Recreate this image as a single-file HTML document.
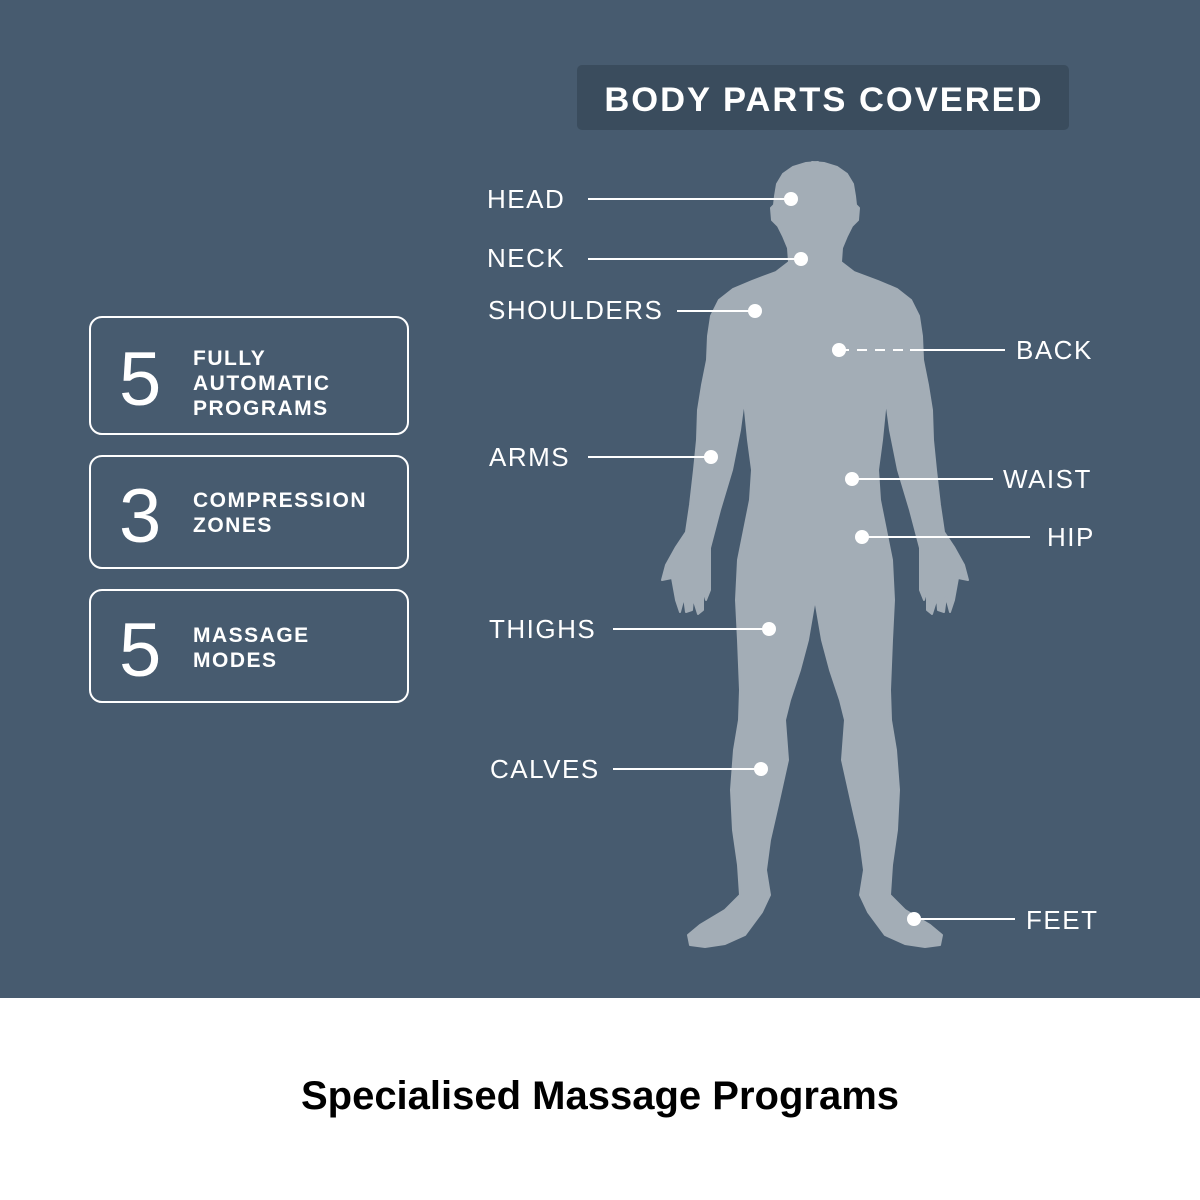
<!DOCTYPE html>
<html><head><meta charset="utf-8"><style>
html,body{margin:0;padding:0;width:1200px;height:1200px;overflow:hidden;background:#fff;}
svg{display:block}
</style></head><body>
<svg width="1200" height="1200" viewBox="0 0 1200 1200" xmlns="http://www.w3.org/2000/svg" font-family="'Liberation Sans', sans-serif">
<rect x="0" y="0" width="1200" height="998" fill="#475b6f"/>
<rect x="0" y="998" width="1200" height="202" fill="#ffffff"/>
<rect x="577" y="65" width="492" height="65" rx="5" fill="#3a4c5d"/>
<text x="824" y="111" text-anchor="middle" fill="#fff" font-size="34.5" font-weight="bold" letter-spacing="2">BODY PARTS COVERED</text>

<g fill="#a3adb6" stroke="#a3adb6" stroke-width="2" stroke-linejoin="round">
<polygon id="half" points="818,162 806,163 793,167 783,174 777,184 775,196 774,205 771,208 772,220 778,226 783,236 788,248 789,262 776,272 752,281 733,289 719,300 711,316 708,336 707,360 702,385 698,410 697,440 694,470 690,505 686,532 676,547 666,565 662,580 672,578 676,600 680,612 684,597 686,612 692,610 693,598 698,614 703,610 703,590 706,600 710,590 710,548 720,510 732,470 740,430 744,400 748,440 752,470 750,500 744,530 738,560 736,600 738,640 740,690 739,720 734,750 731,790 733,830 738,865 740,895 725,910 700,925 688,935 690,945 705,947 725,944 745,935 762,912 770,895 766,870 770,840 778,805 788,760 785,720 790,700 800,670 808,640 814,605 818,598"/>
<use href="#half" transform="translate(1630,0) scale(-1,1)"/>
</g>

<g stroke="#fff" stroke-width="2" fill="none">
<line x1="588" y1="199" x2="791" y2="199"/>
<line x1="588" y1="259" x2="801" y2="259"/>
<line x1="677" y1="311" x2="755" y2="311"/>
<line x1="839" y1="350" x2="910" y2="350" stroke-dasharray="10,8"/>
<line x1="910" y1="350" x2="1005" y2="350"/>
<line x1="588" y1="457" x2="711" y2="457"/>
<line x1="852" y1="479" x2="993" y2="479"/>
<line x1="862" y1="537" x2="1030" y2="537"/>
<line x1="613" y1="629" x2="769" y2="629"/>
<line x1="613" y1="769" x2="761" y2="769"/>
<line x1="914" y1="919" x2="1015" y2="919"/>
</g>
<g fill="#fff">
<circle cx="791" cy="199" r="7"/><circle cx="801" cy="259" r="7"/><circle cx="755" cy="311" r="7"/>
<circle cx="839" cy="350" r="7"/><circle cx="711" cy="457" r="7"/><circle cx="852" cy="479" r="7"/>
<circle cx="862" cy="537" r="7"/><circle cx="769" cy="629" r="7"/><circle cx="761" cy="769" r="7"/>
<circle cx="914" cy="919" r="7"/>
</g>
<g fill="#fff" font-size="26" letter-spacing="1.5">
<text x="487" y="208">HEAD</text>
<text x="487" y="267">NECK</text>
<text x="488" y="319">SHOULDERS</text>
<text x="1016" y="359">BACK</text>
<text x="489" y="466">ARMS</text>
<text x="1003" y="488">WAIST</text>
<text x="1047" y="546">HIP</text>
<text x="489" y="638">THIGHS</text>
<text x="490" y="778">CALVES</text>
<text x="1026" y="929">FEET</text>
</g>

<g fill="none" stroke="#fff" stroke-width="2">
<rect x="90" y="317" width="318" height="117" rx="12"/>
<rect x="90" y="456" width="318" height="112" rx="12"/>
<rect x="90" y="590" width="318" height="112" rx="12"/>
</g>
<g fill="#fff" font-size="76">
<text x="119" y="405">5</text>
<text x="119" y="542">3</text>
<text x="119" y="676">5</text>
</g>
<g fill="#fff" font-size="21" font-weight="bold" letter-spacing="1.5">
<text x="193" y="365">FULLY</text>
<text x="193" y="390">AUTOMATIC</text>
<text x="193" y="415">PROGRAMS</text>
<text x="193" y="507">COMPRESSION</text>
<text x="193" y="532">ZONES</text>
<text x="193" y="642">MASSAGE</text>
<text x="193" y="667">MODES</text>
</g>
<text x="600" y="1109" text-anchor="middle" fill="#000" font-size="40" font-weight="bold">Specialised Massage Programs</text>
</svg>
</body></html>
